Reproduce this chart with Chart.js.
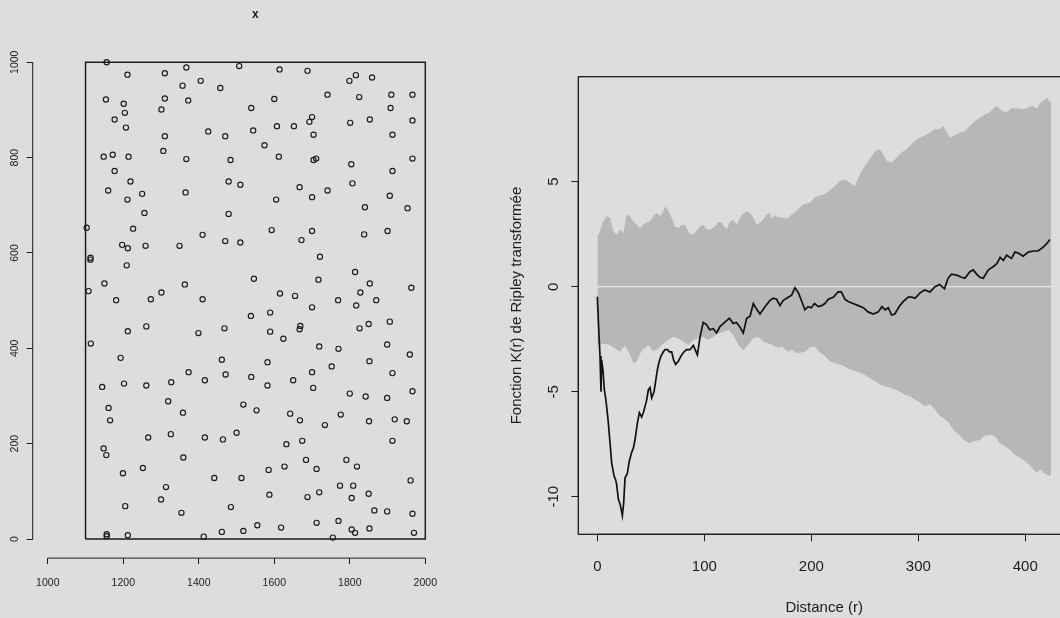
<!DOCTYPE html>
<html>
<head>
<meta charset="utf-8">
<script src="https://cdn.jsdelivr.net/npm/chart.js@4.4.0/dist/chart.umd.min.js"></script>
<style>
  html, body { margin: 0; padding: 0; background: #dddddd; overflow: hidden; }
  #wrap { position: relative; width: 1060px; height: 618px; overflow: hidden; }
  #left { position: absolute; left: 0; top: 0; }
  #right { position: absolute; left: 480px; top: 0; }
</style>
</head>
<body>
<div id="wrap">
  <canvas id="left" width="480" height="618"></canvas>
  <canvas id="right" width="620" height="618"></canvas>
</div>
<script>
// ---- left panel: point pattern "x" ----
const ptsX = [
  1156,1211,1310,1367,1507,1614,1688,1799,1816,1859,
  1405,1357,1457,1741,1825,1910,1966,1154,1310,1372,
  1600,1201,1301,1539,1908,1204,1177,1700,1693,1853,
  1801,1966,1207,1607,1652,1425,1544,1310,1470,1704,
  1913,1574,1306,1148,1172,1214,1367,1484,1612,1704,
  1711,1966,1804,1177,1913,1219,1479,1510,1807,1160,
  1365,1667,1741,1250,1211,1605,1700,1906,1256,1479,
  1840,1953,1103,1226,1593,1700,1900,1410,1838,1197,
  1212,1259,1349,1470,1510,1672,1113,1113,1721,1209,
  1814,1546,1717,1150,1363,1853,1963,1108,1301,1615,
  1655,1828,1181,1273,1410,1769,1870,1817,1700,1538,
  1589,1261,1212,1468,1399,1589,1624,1669,1667,1826,
  1850,1906,1114,1719,1770,1899,1959,1193,1461,1582,
  1852,1752,1373,1471,1539,1700,1913,1202,1327,1416,
  1650,1144,1261,1582,1703,1966,1800,1842,1899,1319,
  1518,1161,1553,1358,1642,1776,1165,1668,1851,1919,
  1951,1734,1500,1326,1266,1416,1464,1674,1913,1632,
  1148,1155,1359,1684,1791,1199,1252,1585,1627,1712,
  1819,1441,1513,1961,1313,1774,1809,1300,1587,1688,
  1719,1805,1850,1205,1485,1354,1865,1899,1966,1770,
  1712,1461,1518,1555,1618,1852,1805,1814,1970,1156,
  1156,1212,1413,1755
];
const ptsY = [
  1000,974,977,989,992,985,982,961,973,968,
  961,951,946,932,927,932,932,922,924,920,
  923,913,901,904,904,894,880,885,875,880,
  873,878,863,866,866,855,857,845,845,848,
  848,826,814,802,806,802,797,795,802,795,
  798,798,786,772,772,750,750,743,746,731,
  727,738,731,724,712,712,717,720,684,682,
  696,694,653,651,648,646,646,638,639,617,
  610,615,615,625,622,627,590,586,592,574,
  560,546,544,536,534,536,527,520,517,515,
  510,517,501,503,503,501,501,490,486,468,
  475,446,436,442,432,435,420,447,440,442,
  451,456,410,404,399,408,387,380,376,371,
  373,362,350,345,340,350,348,326,329,333,
  333,319,322,322,317,310,305,299,296,289,
  282,275,270,265,263,261,249,249,247,251,
  247,239,223,220,213,213,209,206,206,199,
  190,176,171,166,166,138,149,145,152,147,
  152,128,128,123,109,112,112,83,93,88,
  98,86,95,69,67,55,60,58,53,38,
  34,15,17,29,24,22,20,13,13,10,
  6,8,5,3
];
const winX = [1100, 2000];
const winY = [0, 1000];
const leftXTicks = [1000, 1200, 1400, 1600, 1800, 2000];
const leftYTicks = [0, 200, 400, 600, 800, 1000];

// ---- right panel: transformed Ripley K with simulation envelope ----
const hiR = [
  0,1,5.6,8.8,11.9,15,18,21.2,24.3,27.4,
  30.5,33.7,36.8,39.9,44.6,49.3,52.4,55.5,58.6,61.7,
  63.3,66.4,69.5,72.6,75.7,78.8,81.9,85,88,91.3,
  95.9,99,102.2,105.3,110,113,116.2,120.9,124,127,
  130.3,134.9,139.6,144.3,149,153.6,158.3,161.4,
  163,166,169,172.6,175.7,178.8,181.9,185,
  189.4,194,198.8,203.4,208,212.7,217.5,222,226.8,231.5,
  236,240.8,245.5,250,254.8,259.5,264,267.3,270.4,275,
  279.8,284.4,289,
  292,297,301.6,306,311,315.6,320,323.4,326.5,329.6,
  334,339,343.6,348,353,357.6,362,367,370,373.4,
  376.5,379.5,382.6,387,392,396.6,401.4,406,411,414,
  417,420,424
];
const hiK = [
  2.4,2.48,3.1,3.35,3.27,2.63,2.48,2.72,2.56,3.43,
  3.35,3.11,2.95,2.79,3.03,3.11,3.35,3.51,3.35,3.59,
  3.83,3.59,3.27,2.87,2.79,2.95,2.95,2.63,2.48,2.56,
  2.87,2.95,2.72,2.72,2.87,3.11,3.03,2.72,3.11,3.19,
  2.95,3.43,3.59,3.43,2.95,3.11,3.43,3.51,
  3.25,3.4,3.3,3.3,3.25,3.3,3.45,3.55,
  3.8,3.95,4.0,4.25,4.35,4.4,4.6,4.8,5.05,5.1,
  4.95,4.8,5.35,5.75,6.1,6.45,6.55,6.3,6.0,5.9,
  6.15,6.4,6.55,
  6.7,6.95,7.1,7.2,7.35,7.5,7.5,7.65,7.35,7.1,
  7.2,7.35,7.4,7.65,7.9,8.05,8.2,8.3,8.5,8.6,
  8.45,8.35,8.3,8.5,8.5,8.45,8.5,8.6,8.5,8.75,
  8.85,9.0,8.75
];
const loR = [
  0,4.1,11.9,16.5,21.2,25.9,30.5,33.7,36.8,41.5,
  47.7,52.4,57,61.7,66.4,71,75.7,80.4,85,89.7,
  94.4,99,103.7,108.4,113,117.8,122.5,127.1,131.8,136.5,
  141.1,145.8,150.5,155,159.8,
  163,166,169,172.6,175.7,178.8,181.9,185,
  189.4,194,198.8,203.4,208,212.7,217.5,222,226.8,231.5,
  236,240.8,245.5,250,254.8,259.5,264,269,273.5,278,
  283,287.5,
  292,297,301.6,306,311,315.6,320,324.5,329,334,
  339,343.6,348,353,357.6,362,367,371,376.5,381,
  385.6,390,395,399.7,404.5,407.5,410.8,414,417,420,
  424
];
const loK = [
  -2.85,-2.7,-2.78,-2.94,-3.1,-2.78,-3.25,-3.65,-3.57,-3.02,
  -2.78,-3.1,-2.94,-2.7,-2.54,-2.38,-2.46,-2.62,-2.78,-2.54,
  -2.46,-2.38,-2.54,-2.38,-2.22,-2.14,-2.06,-2.3,-2.78,-3.02,
  -2.78,-2.46,-2.38,-2.62,-2.7,
  -2.75,-2.85,-2.9,-2.85,-3.0,-3.1,-3.0,-3.15,
  -3.15,-3.1,-2.9,-2.85,-3.15,-3.3,-3.55,-3.65,-3.7,-3.8,
  -3.95,-4.0,-4.1,-4.2,-4.35,-4.5,-4.65,-4.75,-4.8,-4.9,
  -5.0,-5.15,
  -5.2,-5.4,-5.5,-5.7,-5.6,-5.85,-6.15,-6.3,-6.5,-6.9,
  -7.1,-7.35,-7.45,-7.35,-7.3,-7.1,-7.05,-7.1,-7.45,-7.6,
  -7.75,-8.0,-8.15,-8.3,-8.5,-8.7,-8.85,-8.7,-8.85,-8.95,
  -9.0
];
const obsR = [
  0,1,2.5,3.4,4,5.3,6.5,7.8,9,10.3,
  11.8,13.4,15.6,17.1,18,19.6,21.5,23.4,24.6,25.9,
  28,29.9,32,33.6,35.2,37.4,39.3,41.4,43,46.1,
  47.7,49.2,50.8,53,54.5,56,57.6,59.5,61.7,63.2,
  65.7,67.3,69.5,71.3,73.2,75.7,78.2,81,83.5,86.6,
  89.7,93.5,96,99,102,105,108.4,111.5,114.6,119,
  123.4,127,130,133,136.4,139.6,142.7,145.8,148,152,
  156.7,161.4,164.5,167.6,170.7,173.8,178.5,181.6,184.7,188,
  191.8,194,197,200,203,206.5,209.7,212.7,216,220.5,
  225,228,231.5,234.5,239,244,248.6,253,258,262.6,
  266,269,272,275,278,282.8,286,290.6,294,297,
  301.6,306,311,315.6,320,324.5,327.8,331,335.8,340.5,
  343.6,348,351.4,354.5,357.6,360.7,365.5,370,373.4,376.5,
  379.5,382.6,387.2,390.3,393.5,398,402.8,407.5,412,417,
  420,423
];
const obsK = [
  -0.48,-1.7,-3.3,-5.0,-3.5,-4.0,-4.9,-5.3,-5.85,-6.5,
  -7.4,-8.4,-9.0,-9.2,-9.4,-10.1,-10.4,-10.9,-10.3,-9.1,
  -8.9,-8.3,-7.9,-7.7,-7.3,-6.5,-6.0,-6.2,-6.0,-5.4,
  -4.9,-4.8,-5.3,-5.0,-4.5,-4.0,-3.6,-3.3,-3.1,-3.0,
  -3.0,-3.1,-3.1,-3.5,-3.7,-3.55,-3.3,-3.1,-3.0,-3.0,
  -2.8,-3.25,-2.4,-1.7,-1.8,-2.05,-2.0,-2.2,-1.9,-1.7,
  -1.5,-1.75,-1.7,-1.9,-2.2,-1.5,-1.4,-0.8,-1.0,-1.3,
  -0.95,-0.65,-0.55,-0.6,-0.9,-0.65,-0.5,-0.4,-0.05,-0.3,
  -0.8,-1.1,-0.95,-1.0,-0.8,-0.95,-0.9,-0.8,-0.6,-0.5,
  -0.25,-0.25,-0.6,-0.7,-0.8,-0.9,-1.0,-1.2,-1.3,-1.2,
  -0.95,-1.1,-1.0,-1.35,-1.3,-0.9,-0.7,-0.5,-0.5,-0.55,
  -0.3,-0.15,-0.25,0,0.1,-0.1,0.4,0.6,0.55,0.45,
  0.4,0.7,0.8,0.6,0.45,0.4,0.8,0.95,1.1,1.4,
  1.25,1.5,1.35,1.65,1.6,1.45,1.65,1.7,1.7,1.9,
  2.05,2.25
];
const theoR = [0, 424];
const theoK = [0, 0];
const rightXTicks = [0, 100, 200, 300, 400];
const rightYTicks = [-10, -5, 0, 5];

const ink = '#1c1c1c';
const bandColor = '#b7b7b7';
Chart.defaults.font.family = '"Liberation Sans", Arial, Helvetica, sans-serif';
Chart.defaults.color = ink;

// R-like axes: axis line only between first and last tick, optional frame and main title
const rAxes = {
  id: 'rAxes',
  afterDraw(chart, args, opts) {
    const { ctx, chartArea: a } = chart;
    const xs = chart.scales.x, ys = chart.scales.y;
    const xt = xs.ticks, yt = ys.ticks;
    ctx.save();
    ctx.strokeStyle = ink;
    ctx.lineWidth = 1;
    ctx.beginPath();
    ctx.moveTo(xs.getPixelForValue(xt[0].value), a.bottom);
    ctx.lineTo(xs.getPixelForValue(xt[xt.length - 1].value), a.bottom);
    ctx.moveTo(a.left, ys.getPixelForValue(yt[0].value));
    ctx.lineTo(a.left, ys.getPixelForValue(yt[yt.length - 1].value));
    ctx.stroke();
    if (opts.frame) {
      ctx.lineWidth = 1.3;
      ctx.strokeRect(a.left, a.top, a.right - a.left, a.bottom - a.top);
    }
    if (opts.main) {
      ctx.fillStyle = ink;
      ctx.font = 'bold 12px "Liberation Sans", Arial, sans-serif';
      ctx.textAlign = 'center';
      ctx.textBaseline = 'middle';
      ctx.fillText(opts.main, xs.getPixelForValue((winX[0] + winX[1]) / 2), 15);
    }
    ctx.restore();
  }
};

function fixedTicks(list) {
  return s => { s.ticks = list.map(v => ({ value: v })); };
}

function pairs(xs, ys) {
  return xs.map((x, i) => ({ x: x, y: ys[i] }));
}

// left chart
new Chart(document.getElementById('left'), {
  type: 'scatter',
  data: {
    datasets: [
      {
        data: pairs(ptsX, ptsY),
        pointRadius: 2.6,
        pointHoverRadius: 2.6,
        pointBorderWidth: 1.15,
        borderColor: ink,
        backgroundColor: 'rgba(0,0,0,0)'
      },
      {
        type: 'line',
        data: [
          { x: winX[0], y: winY[0] }, { x: winX[1], y: winY[0] },
          { x: winX[1], y: winY[1] }, { x: winX[0], y: winY[1] },
          { x: winX[0], y: winY[0] }
        ],
        borderColor: ink,
        borderWidth: 1.5,
        pointRadius: 0,
        fill: false,
        tension: 0
      }
    ]
  },
  options: {
    responsive: false,
    animation: false,
    events: [],
    layout: { padding: { left: 0, top: 43.2, right: 39.6, bottom: 0 } },
    plugins: {
      legend: { display: false },
      tooltip: { enabled: false },
      rAxes: { frame: false, main: 'x' }
    },
    scales: {
      x: {
        type: 'linear', min: 960, max: 2040,
        afterBuildTicks: fixedTicks(leftXTicks),
        afterFit: s => { s.height = 59.9; },
        border: { display: false },
        grid: { drawOnChartArea: false, tickLength: 6, color: ink },
        ticks: { autoSkip: false, maxRotation: 0, padding: 12.3, font: { size: 10.5 }, callback: v => String(v) }
      },
      y: {
        type: 'linear', min: -40, max: 1040,
        afterBuildTicks: fixedTicks(leftYTicks),
        afterFit: s => { s.width = 32.7; },
        border: { display: false },
        grid: { drawOnChartArea: false, tickLength: 6, color: ink },
        ticks: { autoSkip: false, minRotation: 90, maxRotation: 90, crossAlign: 'center', padding: 0, font: { size: 10.5 }, callback: v => String(v) }
      }
    }
  },
  plugins: [rAxes]
});

// right chart
new Chart(document.getElementById('right'), {
  type: 'line',
  data: {
    datasets: [
      {
        data: pairs(hiR, hiK),
        borderColor: 'rgba(0,0,0,0)', borderWidth: 0, pointRadius: 0,
        fill: '+1', backgroundColor: bandColor, order: 2
      },
      {
        data: pairs(loR, loK),
        borderColor: 'rgba(0,0,0,0)', borderWidth: 0, pointRadius: 0,
        fill: false, order: 3
      },
      {
        data: pairs(theoR, theoK),
        borderColor: '#f2f2f2', borderWidth: 1, pointRadius: 0, fill: false, order: 1
      },
      {
        data: pairs(obsR, obsK),
        borderColor: '#111111', borderWidth: 1.7, pointRadius: 0, fill: false, tension: 0, order: 0
      }
    ]
  },
  options: {
    responsive: false,
    animation: false,
    events: [],
    layout: { padding: { left: 0, top: 76.7, right: 30, bottom: 0 } },
    plugins: {
      legend: { display: false },
      tooltip: { enabled: false },
      rAxes: { frame: true }
    },
    scales: {
      x: {
        type: 'linear', min: -17.8, max: 441.8,
        afterBuildTicks: fixedTicks(rightXTicks),
        afterFit: s => { s.height = 83.7; },
        border: { display: false },
        grid: { drawOnChartArea: false, tickLength: 7, color: ink },
        ticks: { autoSkip: false, maxRotation: 0, padding: 16.5, font: { size: 15 }, callback: v => String(v) },
        title: { display: true, text: 'Distance (r)', font: { size: 15 }, padding: { top: 0, bottom: 1 } }
      },
      y: {
        type: 'linear', min: -11.79, max: 10.0,
        afterBuildTicks: fixedTicks(rightYTicks),
        afterFit: s => { s.width = 98.3; },
        border: { display: false },
        grid: { drawOnChartArea: false, tickLength: 7, color: ink },
        ticks: { autoSkip: false, minRotation: 90, maxRotation: 90, crossAlign: 'center', padding: 6.5, font: { size: 15 }, callback: v => String(v) },
        title: { display: true, text: 'Fonction K(r) de Ripley transformée', font: { size: 15 }, padding: { top: 28, bottom: 0 } }
      }
    }
  },
  plugins: [rAxes]
});
</script>
</body>
</html>
